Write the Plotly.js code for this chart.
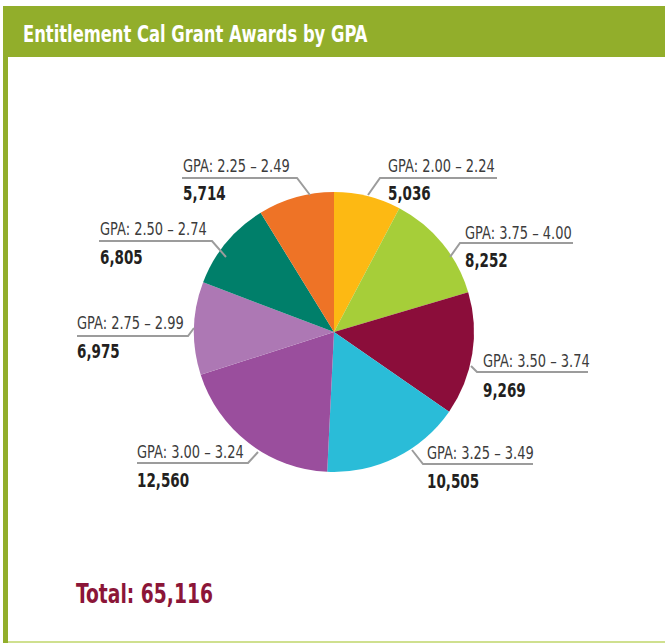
<!DOCTYPE html>
<html>
<head>
<meta charset="utf-8">
<script src="https://cdn.plot.ly/plotly-3.0.1.min.js"></script>
<style>html,body{margin:0;padding:0;background:#fff;}#chart{width:665px;height:643px;}</style>
</head>
<body>
<div id="chart"></div>
<script>
// ---- data (clockwise from 12 o'clock) ----
const gpaRanges = ["2.00 – 2.24", "3.75 – 4.00", "3.50 – 3.74", "3.25 – 3.49", "3.00 – 3.24", "2.75 – 2.99", "2.50 – 2.74", "2.25 – 2.49"];
const awards = [5036, 8252, 9269, 10505, 12560, 6975, 6805, 5714];
const sliceColors = ["#FDB913", "#A6CE39", "#8B0D3A", "#2ABCD8", "#9A4E9D", "#AD78B4", "#007F6A", "#EE7326"];
const chartTitle = "Entitlement Cal Grant Awards by GPA";

// ---- layout helpers (pixels -> paper) ----
const W = 665, H = 643;
const px = x => x / W;
const py = y => 1 - y / H;
const FONT = "'Liberation Sans Narrow', 'DejaVu Sans Condensed', 'Arial Narrow', sans-serif";

// label placement: text left x, label cap-centre y, value cap-centre y, leader polyline (pixels)
const labelPlacement = [
  {x: 388, ly: 165, vy: 192, lead: [[368,195],[380,178],[497,178]]},
  {x: 465, ly: 232, vy: 259, lead: [[450,257],[460,243],[573,243]]},
  {x: 483, ly: 360, vy: 389, lead: [[471,366],[477,372],[588,372]]},
  {x: 427, ly: 452, vy: 480, lead: [[412,450],[423,464],[533,464]]},
  {x: 137, ly: 451, vy: 479, lead: [[137,463],[248,463],[258,452]]},
  {x: 77,  ly: 322, vy: 350, lead: [[77,336],[188,336],[194,328]]},
  {x: 100, ly: 228, vy: 256, lead: [[99,241],[212,241],[226,257]]},
  {x: 183, ly: 165, vy: 192, lead: [[182,178],[297,178],[310,195]]}
];

const fmt = n => n.toLocaleString('en-US');
const total = awards.reduce((a, b) => a + b, 0);

const pie = {
  type: 'pie',
  values: awards,
  labels: gpaRanges.map(r => 'GPA: ' + r),
  marker: {colors: sliceColors, line: {width: 0}},
  sort: false,
  direction: 'clockwise',
  rotation: 0,
  textinfo: 'none',
  hoverinfo: 'label+value',
  showlegend: false,
  domain: {x: [px(194), px(474)], y: [py(472), py(192)]}
};

const shapes = [
  // title bar
  {type: 'rect', xref: 'paper', yref: 'paper', x0: px(3), x1: px(665), y0: py(57), y1: py(6),
   fillcolor: '#92AE2B', line: {width: 0}, layer: 'below'},
  // left border
  {type: 'rect', xref: 'paper', yref: 'paper', x0: px(3), x1: px(8), y0: py(643), y1: py(57),
   fillcolor: '#92AE2B', line: {width: 0}, layer: 'below'},
  // bottom rule
  {type: 'rect', xref: 'paper', yref: 'paper', x0: px(8), x1: px(665), y0: py(643), y1: py(641),
   fillcolor: '#CFE08F', line: {width: 0}, layer: 'below'}
];

labelPlacement.forEach(p => {
  const d = p.lead.map((pt, i) => (i ? 'L' : 'M') + px(pt[0]) + ',' + py(pt[1])).join(' ');
  shapes.push({type: 'path', xref: 'paper', yref: 'paper', path: d,
    line: {color: '#9C9C9C', width: 2}});
});

// horizontal squeeze per annotation (imitates a condensed typeface)
const squeeze = [0.79, 0.77];
const annotations = [
  {text: chartTitle, xref: 'paper', yref: 'paper', x: px(21), y: py(34),
   xanchor: 'left', yanchor: 'middle', showarrow: false,
   font: {family: FONT, size: 23, color: '#FFFFFF', weight: 'bold'}},
  {text: 'Total: ' + fmt(total), xref: 'paper', yref: 'paper', x: px(74), y: py(593),
   xanchor: 'left', yanchor: 'middle', showarrow: false,
   font: {family: FONT, size: 27, color: '#8B1538', weight: 'bold'}}
];

gpaRanges.forEach((r, i) => {
  const p = labelPlacement[i];
  annotations.push({text: 'GPA: ' + r, xref: 'paper', yref: 'paper', x: px(p.x - 2), y: py(p.ly + 1),
    xanchor: 'left', yanchor: 'middle', showarrow: false,
    font: {family: FONT, size: 17, color: '#3C3C3C'}});
  squeeze.push(0.85);
  annotations.push({text: fmt(awards[i]), xref: 'paper', yref: 'paper', x: px(p.x - 2), y: py(p.vy + 1),
    xanchor: 'left', yanchor: 'middle', showarrow: false,
    font: {family: FONT, size: 19, color: '#231F20', weight: 'bold'}});
  squeeze.push(0.79);
});

const layout = {
  width: W, height: H,
  margin: {l: 0, r: 0, t: 0, b: 0},
  paper_bgcolor: '#FFFFFF',
  showlegend: false,
  shapes: shapes,
  annotations: annotations
};

Plotly.newPlot('chart', [pie], layout, {displayModeBar: false, staticPlot: true}).then(gd => {
  gd.querySelectorAll('g.annotation').forEach(g => {
    const idx = +g.getAttribute('data-index');
    const t = g.querySelector('text.annotation-text');
    if (!t) return;
    const bb = t.getBBox();
    const w = t.getComputedTextLength();
    if (!w) return;
    const f = squeeze[idx] || 0.8;
    t.setAttribute('text-anchor', 'start');
    t.setAttribute('x', bb.x);
    t.querySelectorAll('tspan[x]').forEach(s => s.setAttribute('x', bb.x));
    t.setAttribute('textLength', (w * f).toFixed(2));
    t.setAttribute('lengthAdjust', 'spacingAndGlyphs');
  });
});
</script>
</body>
</html>
